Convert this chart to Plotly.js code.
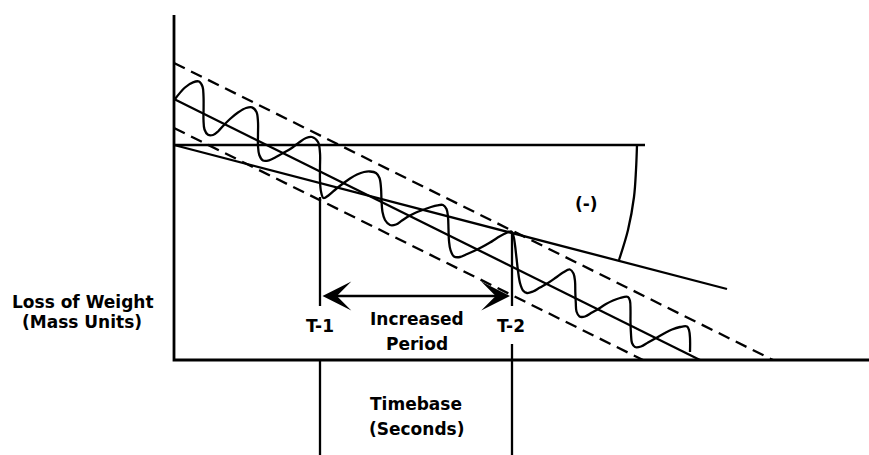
<!DOCTYPE html>
<html>
<head>
<meta charset="utf-8">
<script src="https://cdn.plot.ly/plotly-3.0.1.min.js"></script>
<style>html,body{margin:0;padding:0;background:#fff;}#chart{width:869px;height:455px;}</style>
</head>
<body>
<div id="chart"></div>
<script>
// Diagram coordinates: time (x) and mass (y), origin at axis intersection
const axisX = [0, 0, 695];
const axisY = [345, 0, 0];
const refX = [0, 471];
const refY = [215, 215];
const trendX = [0, 526];
const trendY = [261, 0];
const upperX = [0, 599];
const upperY = [297, 0];
const lowerX = [0, 469];
const lowerY = [232, 0];
const secantX = [0, 553];
const secantY = [215, 71];
const t1X = [146, 146, null, 146, 146];
const t1Y = [163, 54, null, -1, -95];
const t2X = [338, 338, null, 338, 338];
const t2Y = [128, 54, null, 16, -95];
const arcX = [463, 462, 460, 454, 445];
const arcY = [215, 190, 163, 130, 100];
const arrowFrom = [147, 64];
const arrowTo = [336, 64];

const waveX = [1,11,19,25,28.5,29.5,29.6,29.5,30.5,34,39,44,49,56,64,72,
  78,82.5,84,84,84,85.3,89,95,102,110,117,125,132,
  138,144,146,146,146,147,149.5,155,162,169,176,183,190,
  196,202,205.5,207,207.5,208.5,211,216,222,228,235,242,250,257,263.5,
  269,272.5,274,274.5,275,276.5,280,286,292,300,308,316,323,330,
  337.5,339.5,341,342.5,344,346,349,353,359,366,374,382,389,
  396,399.5,401,401.3,401.8,402.5,405.5,411,418,425,432,439,446,
  454,456,456.5,456.5,457,458,461,467,474,482,490,498,506,
  513,515,516,516];
const waveY = [261,272.5,277.7,278.5,273.5,264,252,240,230.5,225.2,225,228.5,234,241,247.5,252,
  252.7,248,238,226,214,205,199.5,199.7,203,207.5,211.5,217.5,222,
  223,218,207,193,180,168.5,162,165,171,176.5,181.5,185.5,188,
  188.5,187,182,172,160,148,140,135,135.5,139.5,144,147.5,150.5,153,154.7,
  155,151,143,131,119,110,103.5,103,105.5,109,113,117.5,122,126,
  128.5,124,115,102,89,77,69.5,67,68.5,72.5,77,82.5,87.5,
  90.5,86.5,79,68,57,48.5,43.5,43.5,47.5,51.5,56,59.5,62,
  63,59,50,38,26,17,13,13.5,17.5,22,26.5,30.5,33,
  33.5,30,22,8];

const labelText = ["Loss of Weight", "(Mass Units)", "T-1", "Increased", "Period", "T-2", "Timebase", "(Seconds)", "(-)"];
const labelX = [-91, -92, 146, 243, 243, 337, 242, 242, 412];
const labelY = [58.5, 38, 34, 41, 16.5, 34, -43.5, -68.5, 156.5];

const black = '#000';
function line(x, y, w, dash, shape) {
  return {x: x, y: y, type: 'scatter', mode: 'lines', hoverinfo: 'skip',
    line: {color: black, width: w, dash: dash || 'solid', shape: shape || 'linear', smoothing: 1}};
}
const traces = [
  line(axisX, axisY, 2.8),
  line(refX, refY, 2.4),
  line(upperX, upperY, 2.3, '12px,7px'),
  line(lowerX, lowerY, 2.3, '12px,7px'),
  line(trendX, trendY, 2.3),
  line(secantX, secantY, 2.3),
  line(t1X, t1Y, 2.3),
  line(t2X, t2Y, 2.3),
  line(arcX, arcY, 2.3, 'solid', 'spline'),
  line(waveX, waveY, 2.3, 'solid', 'spline')
];

const font = {family: 'DejaVu Sans', size: 17, color: black, weight: 'bold'};
const annotations = labelText.map((t, i) => ({
  text: '<b>' + t + '</b>', x: labelX[i], y: labelY[i], xref: 'x', yref: 'y',
  showarrow: false, xanchor: 'center', yanchor: 'middle', font: font
}));
annotations.push({
  x: arrowTo[0], y: arrowTo[1], ax: arrowFrom[0], ay: arrowFrom[1],
  xref: 'x', yref: 'y', axref: 'x', ayref: 'y', text: '', showarrow: true,
  arrowhead: 3, startarrowhead: 3, arrowside: 'end+start',
  arrowsize: 2.0, startarrowsize: 2.0, arrowwidth: 2.4, arrowcolor: black
});

const layout = {
  width: 869, height: 455, margin: {l: 0, r: 0, t: 0, b: 0},
  paper_bgcolor: '#fff', plot_bgcolor: '#fff', showlegend: false,
  xaxis: {range: [-174, 695], visible: false, fixedrange: true},
  yaxis: {range: [-95, 360], visible: false, fixedrange: true},
  annotations: annotations
};
Plotly.newPlot('chart', traces, layout, {staticPlot: true, displayModeBar: false});
</script>
</body>
</html>
